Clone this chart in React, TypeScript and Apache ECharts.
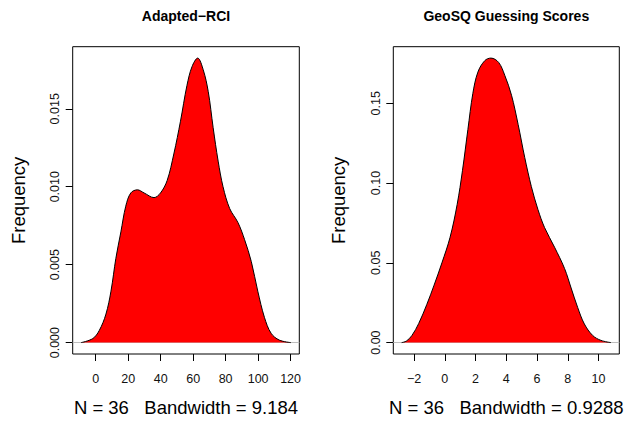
import React, { useEffect, useRef } from "react";
import * as echarts from "echarts";

const titles = ["Adapted\u2212RCI", "GeoSQ Guessing Scores"];
const subLabels = ["N = 36   Bandwidth = 9.184", "N = 36   Bandwidth = 0.9288"];
const yLabel = "Frequency";

const rciX = [-9.0, -1.8, 2.2, 6.3, 9.4, 12.4, 15.5, 18.5, 21.6, 25.7, 29.8, 35.9, 39.9, 44.0, 48.1, 52.2, 56.2, 59.3, 62.8, 66.2, 69.3, 72.3, 75.4, 78.4, 82.5, 87.6, 91.7, 95.8, 99.8, 103.9, 108.0, 113.1, 120.2];
const rciY = [0, 0.00026, 0.00078, 0.00183, 0.0033, 0.0054, 0.0071, 0.00875, 0.0096, 0.0098, 0.0096, 0.0093, 0.0096, 0.0104, 0.0121, 0.0142, 0.0165, 0.0177, 0.01825, 0.0175, 0.0161, 0.0138, 0.01164, 0.0100, 0.0086, 0.0077, 0.0066, 0.0052, 0.0033, 0.00162, 0.0006, 0.00016, 0];

const geoX = [-2.81, -2.5, -2.14, -1.7, -1.17, -0.7, -0.19, 0.34, 0.8, 1.15, 1.5, 1.82, 2.15, 2.6, 3.0, 3.5, 3.9, 4.34, 4.77, 5.2, 5.63, 6.06, 6.49, 7.14, 7.79, 8.22, 8.65, 9.08, 9.62, 10.16, 10.81];
const geoY = [0, 0.001, 0.0045, 0.012, 0.024, 0.036, 0.05, 0.066, 0.0865, 0.108, 0.1335, 0.156, 0.1695, 0.1767, 0.1783, 0.1756, 0.1675, 0.155, 0.1367, 0.116, 0.0978, 0.0834, 0.0721, 0.0598, 0.0465, 0.0342, 0.0219, 0.0117, 0.0045, 0.0014, 0];

const rciXTicks = [0, 20, 40, 60, 80, 100, 120];
const rciYTicks = [0, 0.005, 0.01, 0.015];
const geoXTicks = [-2, 0, 2, 4, 6, 8, 10];
const geoYTicks = [0, 0.05, 0.1, 0.15];

const FONT = "'Liberation Sans', Arial, Helvetica, sans-serif";

function pairs(xs: number[], ys: number[]) {
  return xs.map((x, i) => [x, ys[i]]);
}

function rangeOf(xs: number[], ys: number[]) {
  const xmin = Math.min(...xs);
  const xmax = Math.max(...xs);
  const ymax = Math.max(...ys);
  const dx = (xmax - xmin) * 0.04;
  const dy = ymax * 0.04;
  return { xmin: xmin - dx, xmax: xmax + dx, ymin: -dy, ymax: ymax + dy };
}

const minus = (s: string) => s.replace("-", "\u2212");

export default function App() {
  const ref = useRef<HTMLDivElement>(null);
  useEffect(() => {
    if (!ref.current) return;
    const chart = echarts.init(ref.current, undefined, { renderer: "svg" });
    const r1 = rangeOf(rciX, rciY);
    const r2 = rangeOf(geoX, geoY);
    const grids = [
      { left: 72.7, top: 46.7, width: 226.6, height: 312.6 },
      { left: 393.3, top: 46.7, width: 226, height: 312.6 },
    ];
    const mkX = (i: number, r: any, ticks: number[]) => ({
      type: "value",
      gridIndex: i,
      position: "bottom",
      min: r.xmin,
      max: r.xmax,
      axisLine: { show: false, onZero: false },
      splitLine: { show: false },
      axisTick: { show: true, customValues: ticks, length: 7, lineStyle: { color: "#000", width: 1 } },
      axisLabel: {
        customValues: ticks,
        fontSize: 12.5,
        color: "#111",
        fontFamily: FONT,
        margin: 18,
        formatter: (v: number) => minus(String(v)),
      },
      name: subLabels[i],
      nameLocation: "middle",
      nameGap: 44,
      nameTextStyle: { fontSize: 18.5, color: "#000", fontFamily: FONT },
    });
    const mkY = (i: number, r: any, ticks: number[], dec: number) => ({
      type: "value",
      gridIndex: i,
      position: "left",
      min: r.ymin,
      max: r.ymax,
      axisLine: { show: false, onZero: false },
      splitLine: { show: false },
      axisTick: { show: true, customValues: ticks, length: 7, lineStyle: { color: "#000", width: 1 } },
      axisLabel: {
        customValues: ticks,
        rotate: 90,
        fontSize: 12.5,
        color: "#111",
        fontFamily: FONT,
        margin: 11,
        formatter: (v: number) => v.toFixed(dec),
      },
      name: yLabel,
      nameLocation: "middle",
      nameRotate: 90,
      nameGap: 45,
      nameTextStyle: { fontSize: 18.5, color: "#000", fontFamily: FONT },
    });
    const mkSeries = (i: number, xs: number[], ys: number[]) => ({
      type: "line",
      xAxisIndex: i,
      yAxisIndex: i,
      data: pairs(xs, ys),
      smooth: 0.35,
      showSymbol: false,
      symbol: "none",
      z: 3,
      lineStyle: { color: "#000", width: 1 },
      areaStyle: { color: "#ff0000", opacity: 1 },
      markLine: {
        silent: true,
        symbol: "none",
        z: 1,
        label: { show: false },
        lineStyle: { color: "#bebebe", width: 1, type: "solid" },
        data: [{ yAxis: 0 }],
      },
    });
    chart.setOption({
      animation: false,
      backgroundColor: "#fff",
      grid: grids.map((g) => ({ ...g, show: true, borderColor: "#000", borderWidth: 1, backgroundColor: "transparent" })),
      xAxis: [mkX(0, r1, rciXTicks), mkX(1, r2, geoXTicks)],
      yAxis: [mkY(0, r1, rciYTicks, 3), mkY(1, r2, geoYTicks, 2)],
      series: [mkSeries(0, rciX, rciY), mkSeries(1, geoX, geoY)],
      graphic: titles.map((t, i) => ({
        type: "text",
        x: grids[i].left + grids[i].width / 2,
        y: 16,
        style: {
          text: t,
          align: "center",
          verticalAlign: "middle",
          fontSize: 14,
          fontWeight: "bold",
          fontFamily: FONT,
          fill: "#000",
        },
      })),
    });
    return () => chart.dispose();
  }, []);
  return <div ref={ref} style={{ width: 635, height: 422, position: "absolute", left: 0, top: 0 }} />;
}
